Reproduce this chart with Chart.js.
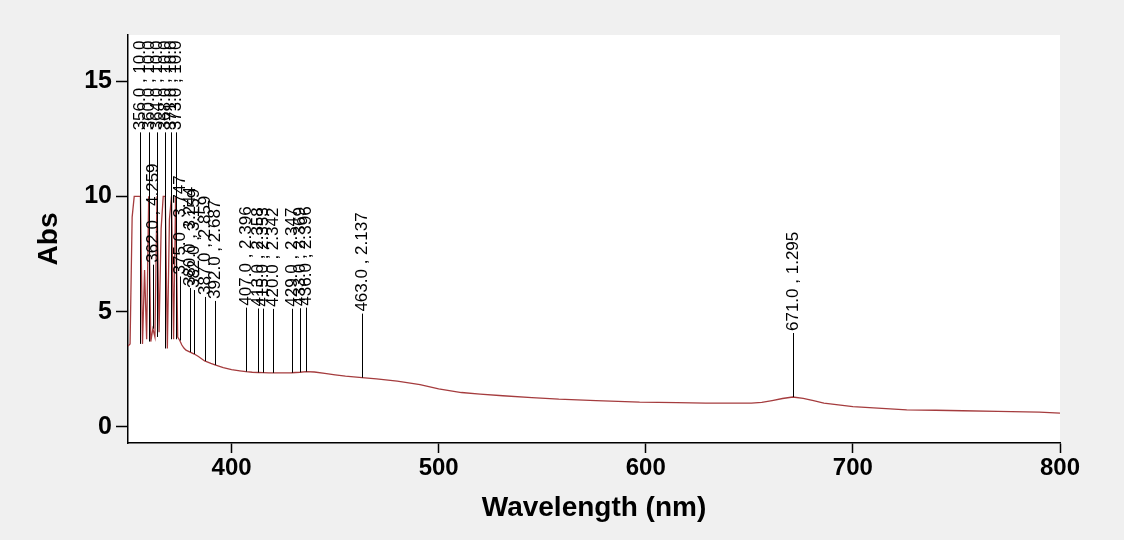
<!DOCTYPE html>
<html>
<head>
<meta charset="utf-8">
<title>Absorbance spectrum</title>
<script src="https://cdn.jsdelivr.net/npm/chart.js@4.4.1/dist/chart.umd.min.js"></script>
<style>
  html, body { margin: 0; padding: 0; background: #f0f0f0; }
  #wrap { width: 1124px; height: 540px; }
</style>
</head>
<body>
<div id="wrap"><canvas id="specChart" width="1124" height="540"></canvas></div>
<script>
// ---- data ----
const wavelength = [350, 351, 352, 353, 354, 355, 356, 357, 358, 359, 360, 361, 362, 363, 364, 365, 366, 367, 368, 369,
  370, 371, 372, 373, 374, 375, 376, 377, 378, 380, 382, 384, 387, 390, 392, 396, 400, 404, 407, 410,
  413, 415, 418, 420, 424, 429, 433, 436, 440, 445, 450, 455, 463, 470, 480, 491, 500, 511, 520, 531,
  545, 558, 576, 597, 615, 629, 640, 651, 656, 661, 666, 671, 676, 681, 686, 693, 700, 714, 726, 740,
  753, 770, 790, 800];
const absorbance = [3.5, 3.6, 9.1, 10, 10, 10, 10, 3.6, 6.8, 3.8, 10, 3.7, 4.259, 3.9, 10, 4.1, 8.6, 10, 10, 3.4,
  9.0, 10, 3.8, 10, 3.9, 3.747, 3.55, 3.42, 3.33, 3.244, 3.159, 3.05, 2.859, 2.75, 2.687, 2.57, 2.48, 2.43, 2.396, 2.37,
  2.358, 2.353, 2.345, 2.342, 2.34, 2.347, 2.369, 2.396, 2.38, 2.32, 2.26, 2.2, 2.137, 2.08, 1.98, 1.83, 1.65, 1.49, 1.42, 1.35,
  1.27, 1.2, 1.14, 1.07, 1.05, 1.03, 1.03, 1.03, 1.06, 1.14, 1.23, 1.295, 1.24, 1.14, 1.03, 0.95, 0.88, 0.8, 0.74, 0.72,
  0.7, 0.67, 0.64, 0.6];

// picked peaks
const peakWl  = [356, 360, 364, 368, 371, 373, 362, 375, 380, 382, 387, 392,
  407, 413, 415, 420, 429, 433, 436, 463, 671];
const peakAbs = [10, 10, 10, 10, 10, 10, 4.259, 3.747, 3.244, 3.159, 2.859, 2.687,
  2.396, 2.358, 2.353, 2.342, 2.347, 2.369, 2.396, 2.137, 1.295];

const xTicks = [400, 500, 600, 700, 800];
const yTicks = [0, 5, 10, 15];

const LABEL_GAP = 64;   // px between peak point and its label
const FONT = '"Liberation Sans", Arial, sans-serif';

function peakText(w, a) {
    const v = Number.isInteger(a) ? a.toFixed(1) : a.toFixed(3);
    return w.toFixed(1) + ' , ' + v;
}

// saturated peaks: marker line runs down to the lowest neighbour
function markerBase(w, a) {
    if (a < 10) return a;
    const i = wavelength.indexOf(w);
    if (i < 0) return a;
    const lo = [absorbance[i - 1], absorbance[i + 1]].filter(v => v !== undefined);
    return Math.min(a, ...lo);
}

// white plot box on grey page
const plotBg = {
    id: 'plotBg',
    beforeDraw(chart) {
        const { ctx, chartArea: a } = chart;
        ctx.save();
        ctx.fillStyle = '#f0f0f0';
        ctx.fillRect(0, 0, chart.width, chart.height);
        ctx.fillStyle = '#ffffff';
        ctx.fillRect(a.left, a.top, a.right - a.left, a.bottom - a.top);
        ctx.restore();
    }
};

// vertical peak markers with rotated "wl , abs" text
const peakLabels = {
    id: 'peakLabels',
    afterDatasetsDraw(chart) {
        const { ctx, scales: { x, y } } = chart;
        ctx.save();
        ctx.strokeStyle = '#000';
        ctx.fillStyle = '#000';
        ctx.lineWidth = 1;
        ctx.font = '17px ' + FONT;
        peakWl.forEach((w, i) => {
            const px = Math.round(x.getPixelForValue(w)) + 0.5;
            const py = y.getPixelForValue(peakAbs[i]);
            const base = y.getPixelForValue(markerBase(w, peakAbs[i]));
            const top = py - LABEL_GAP;
            ctx.beginPath();
            ctx.moveTo(px, base);
            ctx.lineTo(px, top);
            ctx.stroke();
            ctx.save();
            ctx.translate(px, top - 2);
            ctx.rotate(-Math.PI / 2);
            ctx.textAlign = 'left';
            ctx.textBaseline = 'middle';
            ctx.fillText(peakText(w, peakAbs[i]), 0, 0);
            ctx.restore();
        });
        ctx.restore();
    }
};

const points = wavelength.map((w, i) => ({ x: w, y: absorbance[i] }));

new Chart(document.getElementById('specChart'), {
    type: 'line',
    data: {
        datasets: [{
            label: 'Abs',
            data: points,
            borderColor: '#a53c3e',
            borderWidth: 1.3,
            pointRadius: 0,
            tension: 0,
            fill: false
        }]
    },
    options: {
        responsive: false,
        animation: false,
        devicePixelRatio: 1,
        layout: { padding: { left: 0, right: 64, top: 35, bottom: 0 } },
        plugins: {
            legend: { display: false },
            tooltip: { enabled: false }
        },
        scales: {
            x: {
                type: 'linear',
                min: 350,
                max: 800,
                afterBuildTicks: s => { s.ticks = xTicks.map(v => ({ value: v })); },
                afterFit: s => { s.height = 97; },
                border: { color: '#000', width: 1.5 },
                grid: { drawOnChartArea: false, tickLength: 10, tickColor: '#000', tickWidth: 1.5 },
                ticks: { color: '#000', font: { family: FONT, size: 24, weight: 'bold' }, padding: 1, maxRotation: 0 },
                title: {
                    display: true,
                    text: 'Wavelength (nm)',
                    color: '#000',
                    font: { family: FONT, size: 28, weight: 'bold' },
                    padding: { top: 0, bottom: 15 }
                }
            },
            y: {
                type: 'linear',
                min: -0.7,
                max: 17.0,
                afterBuildTicks: s => { s.ticks = yTicks.map(v => ({ value: v })); },
                afterFit: s => { s.width = 128; },
                border: { color: '#000', width: 1.5 },
                grid: { drawOnChartArea: false, tickLength: 12, tickColor: '#000', tickWidth: 1.5 },
                ticks: { color: '#000', font: { family: FONT, size: 25, weight: 'bold' }, padding: 4 },
                title: {
                    display: true,
                    text: 'Abs',
                    color: '#000',
                    font: { family: FONT, size: 28, weight: 'bold' },
                    padding: { top: 32, bottom: 0 }
                }
            }
        }
    },
    plugins: [plotBg, peakLabels]
});
</script>
</body>
</html>
